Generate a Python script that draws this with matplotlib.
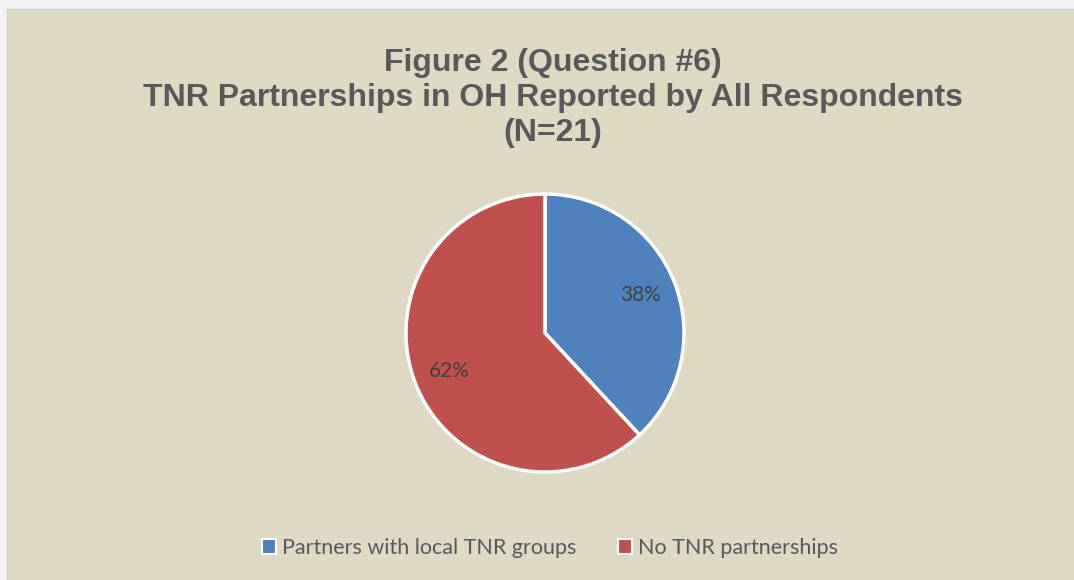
import matplotlib.pyplot as plt
from matplotlib.patches import Rectangle

# data
labels = ['Partners with local TNR groups', 'No TNR partnerships']
counts = [8, 13]
colors = ['#4F81BD', '#C0504D']
title_lines = ['Figure 2 (Question #6)',
               'TNR Partnerships in OH Reported by All Respondents',
               '(N=21)']

W, H = 1074, 580
fig = plt.figure(figsize=(W / 100, H / 100), dpi=100)
fig.patch.set_facecolor('#F2F2F2')

# chart area background
bg_ax = fig.add_axes([0, 0, 1, 1], zorder=-5)
bg_ax.axis('off')
bg_ax.add_patch(Rectangle((7 / W, -0.01), 1.01 - 7 / W, 1.01 - 9 / H,
                          transform=bg_ax.transAxes, facecolor='#DDD9C3',
                          edgecolor='#D0D0D0', linewidth=1))

# title
for i, line in enumerate(title_lines):
    y = 1 - (63 + 35 * i) / H
    fig.text(553 / W, y, line, ha='center', va='center', fontsize=23,
             fontweight='bold', color='#595959', family='Liberation Sans')

# pie: centre ~(545, 333), radius ~139 px
r = 139
ax = fig.add_axes([(545 - r) / W, 1 - (333 + r) / H, 2 * r / W, 2 * r / H])
wedges, texts, autotexts = ax.pie(
    counts, colors=colors, startangle=90, counterclock=False,
    autopct=lambda p: f'{p:.0f}%', pctdistance=0.74,
    wedgeprops=dict(edgecolor='white', linewidth=2.5),
    textprops=dict(fontsize=15, color='#404040', family='Lato'))
ax.set_xlim(-1, 1)
ax.set_ylim(-1, 1)
ax.set_aspect('equal')
for w in wedges:
    w.set_clip_on(False)

leg = fig.legend(wedges, labels, loc='center', bbox_to_anchor=(550 / W, 1 - 548 / H),
                 ncol=2, frameon=False, handlelength=0.65, handleheight=0.65,
                 handletextpad=0.3, columnspacing=1.9,
                 prop=dict(family='Lato', size=15.5))
for t in leg.get_texts():
    t.set_color('#595959')
for h in leg.legend_handles:
    h.set_edgecolor('white')
    h.set_linewidth(1.5)

fig.savefig('out.png', dpi=100, facecolor=fig.get_facecolor())
